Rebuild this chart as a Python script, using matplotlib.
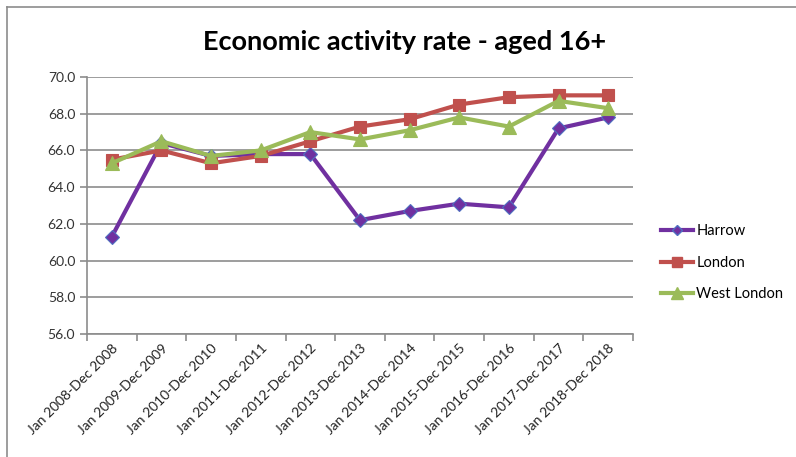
import matplotlib
matplotlib.use("Agg")
import matplotlib.pyplot as plt
from matplotlib.lines import Line2D
import numpy as np

periods = ["Jan 2008-Dec 2008", "Jan 2009-Dec 2009", "Jan 2010-Dec 2010",
           "Jan 2011-Dec 2011", "Jan 2012-Dec 2012", "Jan 2013-Dec 2013",
           "Jan 2014-Dec 2014", "Jan 2015-Dec 2015", "Jan 2016-Dec 2016",
           "Jan 2017-Dec 2017", "Jan 2018-Dec 2018"]
harrow = [61.3, 66.4, 65.7, 65.8, 65.8, 62.2, 62.7, 63.1, 62.9, 67.2, 67.8]
london = [65.5, 66.0, 65.3, 65.7, 66.5, 67.3, 67.7, 68.5, 68.9, 69.0, 69.0]
west_london = [65.3, 66.5, 65.7, 66.0, 67.0, 66.6, 67.1, 67.8, 67.3, 68.7, 68.3]
y_ticks = [56.0, 58.0, 60.0, 62.0, 64.0, 66.0, 68.0, 70.0]

plt.rcParams["font.family"] = ["Lato", "DejaVu Sans"]

fig = plt.figure(figsize=(7.96, 4.57), dpi=100)
ax = fig.add_axes([87 / 796, 1 - 334 / 457, (633 - 87) / 796, (334 - 77) / 457])

x = np.arange(len(periods))
series = [
    ("Harrow", harrow, "#7030A0", "D", 7, "#4F6FC0"),
    ("London", london, "#C0504D", "s", 9, "#C0504D"),
    ("West London", west_london, "#9BBB59", "^", 10, "#9BBB59"),
]
handles = []
for name, vals, col, mk, ms, mec in series:
    ax.plot(x, vals, color=col, lw=3, marker=mk, markersize=ms,
            markerfacecolor=col, markeredgecolor=mec, markeredgewidth=0.8,
            zorder=3)
    handles.append(Line2D([0], [0], color=col, lw=3, marker=mk,
                          markersize=ms * 0.8, markerfacecolor=col,
                          markeredgecolor=mec, label=name))

ax.set_xlim(-0.5, len(periods) - 0.5)
ax.set_ylim(56, 70)
ax.set_yticks(y_ticks)
ax.set_yticklabels([f"{v:.1f}" for v in y_ticks], fontsize=10, color="#333333")
ax.grid(axis="y", color="#8c8c8c", lw=1.2)
ax.set_axisbelow(True)

# category labels centred on points, ticks on category boundaries
ax.set_xticks(x)
ax.set_xticklabels(periods, rotation=45, ha="right", rotation_mode="anchor",
                   fontsize=10, color="#222222")
ax.tick_params(axis="x", length=0, pad=6)
ax.set_xticks(np.arange(-0.5, len(periods)), minor=True)
ax.tick_params(axis="x", which="minor", length=5, color="#8c8c8c", width=1.2)
ax.tick_params(axis="y", length=5, color="#8c8c8c", width=1.2)

for s in ("top", "right"):
    ax.spines[s].set_visible(False)
for s in ("left", "bottom"):
    ax.spines[s].set_color("#8c8c8c")
    ax.spines[s].set_linewidth(1.2)

fig.text(0.508, 1 - 42 / 457, "Economic activity rate - aged 16+",
         ha="center", va="center", fontsize=19.5, fontweight="bold")

fig.legend(handles=handles, loc="upper left",
           bbox_to_anchor=(648 / 796, 1 - 211 / 457), frameon=False,
           fontsize=10.5, handlelength=2.2, labelspacing=1.2,
           handletextpad=0.2)

# chart frame
fig.add_artist(Line2D([7 / 796, 1], [1 - 7 / 457, 1 - 7 / 457],
                      color="#8c8c8c", lw=1.2, transform=fig.transFigure))
fig.add_artist(Line2D([7 / 796, 7 / 796], [0, 1 - 7 / 457],
                      color="#8c8c8c", lw=1.2, transform=fig.transFigure))

fig.savefig("out.png", dpi=100, facecolor="white")
